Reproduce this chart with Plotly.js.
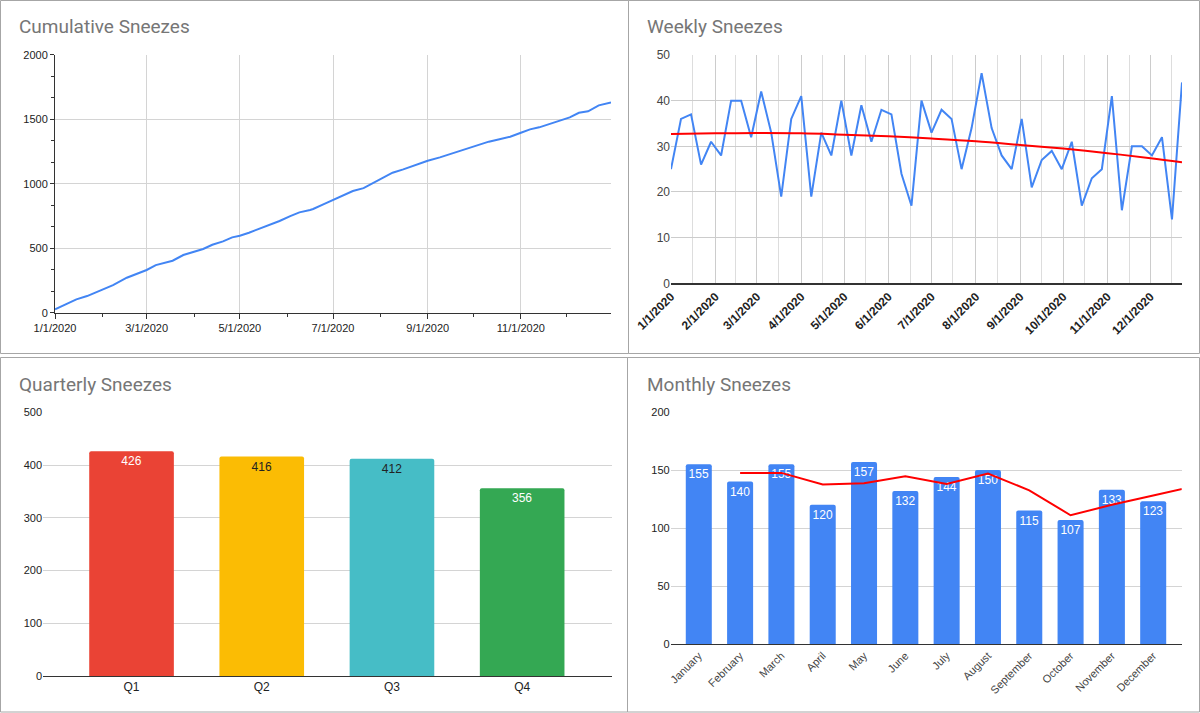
<!DOCTYPE html>
<html>
<head>
<meta charset="utf-8">
<script src="https://cdn.plot.ly/plotly-3.0.1.min.js"></script>
<style>
  html, body { margin: 0; padding: 0; background: #ffffff; }
  #chart { width: 1200px; height: 713px; }
</style>
</head>
<body>
<div id="chart"></div>
<script>
// ---------- DATA ----------
const cumDates = ['2020-01-01','2020-01-15','2020-01-22','2020-02-01','2020-02-08','2020-02-17','2020-02-25',
  '2020-03-01','2020-03-07','2020-03-14','2020-03-18','2020-03-25','2020-03-31','2020-04-07','2020-04-13',
  '2020-04-20','2020-04-26','2020-05-01','2020-05-07','2020-05-14','2020-05-20','2020-05-27','2020-06-03',
  '2020-06-09','2020-06-16','2020-06-18','2020-06-25','2020-07-01','2020-07-08','2020-07-14','2020-07-21',
  '2020-07-27','2020-08-03','2020-08-09','2020-08-16','2020-08-22','2020-09-01','2020-09-09','2020-09-15',
  '2020-09-22','2020-09-29','2020-10-05','2020-10-11','2020-10-18','2020-10-25','2020-11-01','2020-11-07',
  '2020-11-13','2020-11-20','2020-11-26','2020-12-03','2020-12-09','2020-12-15','2020-12-22','2020-12-30'];
const cumValues = [26,103,129,181,214,271,310,
  331,369,388,403,447,470,494,527,
  553,584,597,620,651,680,711,749,
  778,796,804,842,873,910,943,966,
  1003,1049,1085,1111,1137,1178,1204,1227,
  1253,1279,1307,1326,1344,1364,1395,1421,
  1437,1463,1488,1514,1550,1561,1607,1630];

const weekDates = ['2020-01-01','2020-01-08','2020-01-15','2020-01-22','2020-01-29','2020-02-05','2020-02-12',
  '2020-02-19','2020-02-26','2020-03-04','2020-03-11','2020-03-18','2020-03-25','2020-04-01','2020-04-08',
  '2020-04-15','2020-04-22','2020-04-29','2020-05-06','2020-05-13','2020-05-20','2020-05-27','2020-06-03',
  '2020-06-10','2020-06-17','2020-06-24','2020-07-01','2020-07-08','2020-07-15','2020-07-22','2020-07-29',
  '2020-08-05','2020-08-12','2020-08-19','2020-08-26','2020-09-02','2020-09-09','2020-09-16','2020-09-23',
  '2020-09-30','2020-10-07','2020-10-14','2020-10-21','2020-10-28','2020-11-04','2020-11-11','2020-11-18',
  '2020-11-25','2020-12-02','2020-12-09','2020-12-16','2020-12-23'];
const weekValues = [25,36,37,26,31,28,40,
  40,32,42,33,19,36,41,19,
  33,28,40,28,39,31,38,37,
  24,17,40,33,38,36,25,34,
  46,34,28,25,36,21,27,29,
  25,31,17,23,25,41,16,30,
  30,28,32,14,44];

const trendDates = ['2020-01-01','2020-02-01','2020-03-01','2020-04-01','2020-05-01','2020-06-01','2020-07-01',
  '2020-08-01','2020-09-01','2020-10-01','2020-11-01','2020-12-01','2020-12-23'];
const trendValues = [32.7,32.85,32.9,32.85,32.55,32.2,31.7,31.1,30.3,29.5,28.5,27.4,26.5];

const weekMinorGrid = ['2020-01-16','2020-02-15','2020-03-16','2020-04-16','2020-05-16','2020-06-16',
  '2020-07-16','2020-08-16','2020-09-16','2020-10-16','2020-11-16','2020-12-16'];

const quarters = ['Q1','Q2','Q3','Q4'];
const quarterValues = [426,416,412,356];
const quarterColors = ['#EA4335','#FBBC04','#46BDC6','#34A853'];
const quarterLabelColors = ['#ffffff','#222222','#222222','#ffffff'];

const months = ['January','February','March','April','May','June','July','August','September','October','November','December'];
const monthValues = [155,140,155,120,157,132,144,150,115,107,133,123];
// 2-period moving average line (last point lies beyond the plot edge)
const monthAvg = [null,147.5,147.5,137.5,138.5,144.5,138,147,132.5,111,120,128,136];

const titles = ['Cumulative Sneezes','Weekly Sneezes','Quarterly Sneezes','Monthly Sneezes'];

// ---------- HELPERS ----------
const W = 1200, H = 713;
const px = v => v / W;
const py = v => 1 - v / H;
const axisFont = {family: 'Arial, "Liberation Sans", sans-serif', size: 11, color: '#222222'};
const grid = '#d4d4d4';

// ---------- TRACES ----------
const traces = [
  {type: 'scatter', mode: 'lines', x: cumDates, y: cumValues, xaxis: 'x', yaxis: 'y',
   line: {color: '#4285F4', width: 2}, hoverinfo: 'skip'},
  {type: 'scatter', mode: 'lines', x: weekDates, y: weekValues, xaxis: 'x2', yaxis: 'y2',
   line: {color: '#4285F4', width: 2}, hoverinfo: 'skip'},
  {type: 'scatter', mode: 'lines', x: trendDates, y: trendValues, xaxis: 'x2', yaxis: 'y2',
   line: {color: '#FF0000', width: 2, shape: 'spline'}, hoverinfo: 'skip'},
  {type: 'bar', x: quarters, y: quarterValues, xaxis: 'x3', yaxis: 'y3', width: 0.65,
   marker: {color: quarterColors, cornerradius: 2}, text: quarterValues.map(String), textposition: 'inside',
   insidetextanchor: 'end', textangle: 0, constraintext: 'none',
   insidetextfont: {family: 'Arial, "Liberation Sans", sans-serif', size: 12, color: quarterLabelColors},
   hoverinfo: 'skip'},
  {type: 'bar', x: months.map((m, i) => i), y: monthValues, xaxis: 'x4', yaxis: 'y4', width: 0.63,
   marker: {color: '#4285F4', cornerradius: 2}, text: monthValues.map(String), textposition: 'inside',
   insidetextanchor: 'end', textangle: 0, constraintext: 'none',
   insidetextfont: {family: 'Arial, "Liberation Sans", sans-serif', size: 12, color: '#ffffff'},
   hoverinfo: 'skip'},
  {type: 'scatter', mode: 'lines', x: monthAvg.map((v, i) => i), y: monthAvg, xaxis: 'x4', yaxis: 'y4',
   line: {color: '#FF0000', width: 2}, connectgaps: false, hoverinfo: 'skip'}
];

// ---------- PANEL BORDERS ----------
const borderColor = '#a6a6a6';
function rect(x0, y0, x1, y1) {
  return {type: 'rect', xref: 'paper', yref: 'paper', x0: px(x0), y0: py(y0), x1: px(x1), y1: py(y1),
    line: {color: borderColor, width: 1}, fillcolor: 'rgba(0,0,0,0)', layer: 'above'};
}
const shapes = [
  rect(0.5, 0.5, 628.5, 353.5),
  rect(628.5, 0.5, 1199.5, 353.5),
  rect(0.5, 357.5, 627.5, 712),
  rect(627.5, 357.5, 1199.5, 712)
];

const titlePos = [[17, 27], [645, 27], [17, 384], [645, 384]];
const annotations = titles.map((t, i) => ({
  text: t, xref: 'paper', yref: 'paper', x: px(titlePos[i][0]), y: py(titlePos[i][1]),
  xanchor: 'left', yanchor: 'middle', showarrow: false,
  font: {family: 'Roboto, "Open Sans", sans-serif', size: 19, color: '#767676'}
}));

const layout = {
  width: W, height: H,
  margin: {l: 0, r: 0, t: 0, b: 0},
  paper_bgcolor: '#ffffff', plot_bgcolor: '#ffffff',
  showlegend: false,
  barmode: 'group',
  shapes: shapes,
  annotations: annotations,
  // Cumulative
  xaxis: {domain: [px(55), px(611)], anchor: 'y', type: 'date',
    range: ['2020-01-01', '2020-12-30'], dtick: 'M2', tick0: '2020-01-01', tickformat: '%-m/%-d/%Y',
    showgrid: true, gridcolor: grid, showline: true, linecolor: '#333333', linewidth: 1,
    ticks: 'outside', ticklen: 5, tickcolor: '#333333', tickfont: axisFont, zeroline: false,
    minor: {dtick: 'M1', tick0: '2020-01-01', ticks: 'outside', ticklen: 3, tickcolor: '#333333', showgrid: false}},
  yaxis: {domain: [py(312.7), py(54.7)], anchor: 'x', range: [0, 2000], dtick: 500,
    showgrid: true, gridcolor: grid, showline: true, linecolor: '#333333', linewidth: 1,
    ticks: 'outside', ticklen: 4, tickcolor: '#333333', tickfont: axisFont, zeroline: false,
    minor: {dtick: 500 / 3, ticks: 'outside', ticklen: 3, tickcolor: '#333333', showgrid: false}},
  // Weekly
  xaxis2: {domain: [px(671), px(1182)], anchor: 'y2', type: 'date',
    range: ['2020-01-01', '2020-12-23'], dtick: 'M1', tick0: '2020-01-01', tickformat: '%-m/%-d/%Y',
    tickangle: -45, showgrid: true, gridcolor: '#cccccc', showline: true, linecolor: '#333333', linewidth: 1.5,
    ticks: '', zeroline: false,
    tickfont: {family: 'Arial, "Liberation Sans", sans-serif', size: 12, color: '#222222', weight: 'bold'},
    minor: {tickvals: weekMinorGrid, showgrid: true, gridcolor: '#dddddd', ticks: ''}},
  yaxis2: {domain: [py(283.3), py(55)], anchor: 'x2', range: [0, 50], dtick: 10,
    showgrid: true, gridcolor: '#cccccc', showline: false, ticks: '', zeroline: false,
    tickfont: {family: 'Arial, "Liberation Sans", sans-serif', size: 12, color: '#444444'}},
  // Quarterly
  xaxis3: {domain: [px(43), px(612)], anchor: 'y3', type: 'category', range: [-0.68, 3.69],
    showgrid: false, showline: true, linecolor: '#333333', linewidth: 1, ticks: '', zeroline: false,
    tickfont: {family: 'Arial, "Liberation Sans", sans-serif', size: 12, color: '#222222'}},
  yaxis3: {domain: [py(676), py(412.25)], anchor: 'x3', range: [0, 500], dtick: 100,
    showgrid: true, gridcolor: grid, showline: false, ticks: '', zeroline: false,
    tickfont: {family: 'Arial, "Liberation Sans", sans-serif', size: 11, color: '#222222'}},
  // Monthly
  xaxis4: {domain: [px(670.7), px(1181.7)], anchor: 'y4', range: [-0.68, 11.69],
    tickvals: months.map((m, i) => i), ticktext: months, tickangle: -45,
    showgrid: false, showline: true, linecolor: '#333333', linewidth: 1, ticks: '', zeroline: false,
    tickfont: {family: 'Arial, "Liberation Sans", sans-serif', size: 11, color: '#444444'}},
  yaxis4: {domain: [py(644), py(412)], anchor: 'x4', range: [0, 200], dtick: 50,
    showgrid: true, gridcolor: grid, showline: false, ticks: '', zeroline: false,
    tickfont: {family: 'Arial, "Liberation Sans", sans-serif', size: 11, color: '#222222'}}
};

Plotly.newPlot('chart', traces, layout, {staticPlot: true, displayModeBar: false});
</script>
</body>
</html>
